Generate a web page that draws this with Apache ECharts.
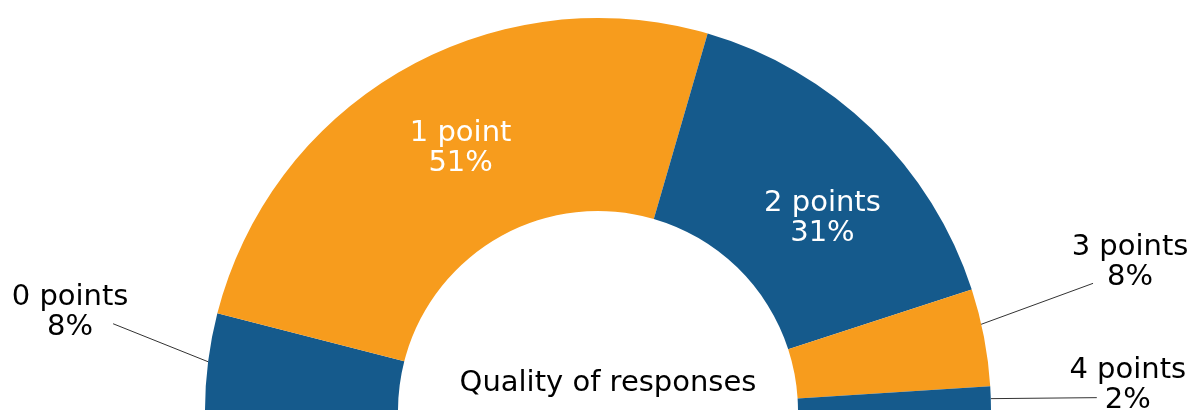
<!DOCTYPE html>
<html>
<head>
<meta charset="utf-8">
<script src="https://cdn.jsdelivr.net/npm/echarts@6/dist/echarts.min.js"></script>
<style>
  html, body { margin: 0; padding: 0; background: #ffffff; }
  #chart { width: 1195px; height: 410px; }
</style>
</head>
<body>
<div id="chart"></div>
<script>
// Share of responses by quality score (percent)
const categories = ['0 points', '1 point', '2 points', '3 points', '4 points'];
const shares = [8, 51, 31, 8, 2];
const centerTitle = 'Quality of responses';

const BLUE = '#155a8c';
const ORANGE = '#f79c1d';
const FONT = "'DejaVu Sans', Verdana, sans-serif";
const FONT_SIZE = 29;
const sliceColors = [BLUE, ORANGE, BLUE, ORANGE, BLUE];
const insideLabel = [false, true, true, false, false];
// Label offsets: inside labels shift from their default spot; outside labels
// sit relative to the slice's outer midpoint, with a straight leader line.
const labelShift = [
  { label: [-138, -49], line: [-95, -38], start: [0, 0] },
  { label: [11, -2] },
  { label: [16, 23] },
  { label: [146, -75], line: [109, -54], start: [-3, -13] },
  { label: [137, -13], line: [106, -1], start: [0, 0] }
];

const chart = echarts.init(document.getElementById('chart'), null, { renderer: 'canvas' });

const pieData = categories.map((name, i) => ({
  name: name,
  value: shares[i],
  itemStyle: { color: sliceColors[i] },
  label: insideLabel[i]
    ? { position: 'inside', color: '#ffffff' }
    : { position: 'outside', color: '#000000' },
  labelLine: { show: !insideLabel[i] }
}));

chart.setOption({
  animation: false,
  backgroundColor: '#ffffff',
  graphic: [{
    type: 'text',
    x: 608,
    y: 383,
    style: {
      text: centerTitle,
      font: FONT_SIZE + 'px ' + FONT,
      fill: '#000000',
      align: 'center',
      verticalAlign: 'middle'
    }
  }],
  series: [{
    type: 'pie',
    center: [598, 411],
    radius: [200, 393],
    startAngle: 180,
    endAngle: 360,
    clockwise: true,
    silent: true,
    avoidLabelOverlap: false,
    itemStyle: { borderWidth: 0 },
    label: {
      show: true,
      formatter: '{b}\n{c}%',
      fontFamily: FONT,
      fontSize: FONT_SIZE,
      lineHeight: 30,
      align: 'center'
    },
    labelLine: {
      show: true,
      length: 40,
      length2: 0,
      smooth: false,
      lineStyle: { color: '#333333', width: 1 }
    },
    labelLayout: function (params) {
      const s = labelShift[params.dataIndex];
      if (!s.line) {
        return { dx: s.label[0], dy: s.label[1] };
      }
      const p0 = params.labelLinePoints[0];
      const start = [p0[0] + s.start[0], p0[1] + s.start[1]];
      const end = [p0[0] + s.line[0], p0[1] + s.line[1]];
      return {
        x: p0[0] + s.label[0],
        y: p0[1] + s.label[1],
        align: 'center',
        verticalAlign: 'middle',
        labelLinePoints: [start, end, end]
      };
    },
    data: pieData
  }]
});
</script>
</body>
</html>
